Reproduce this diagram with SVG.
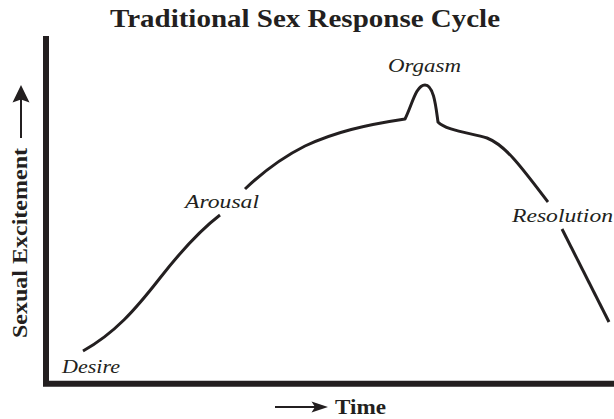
<svg xmlns="http://www.w3.org/2000/svg" width="614" height="419" viewBox="0 0 614 419">
  <style>
    .title { font-family: "Liberation Serif", "Times New Roman", serif; font-weight: bold; font-size: 26px; fill: #231f20; }
    .axis-label { font-family: "Liberation Serif", "Times New Roman", serif; font-weight: bold; font-size: 20px; fill: #231f20; }
    .phase { font-family: "Liberation Serif", "Times New Roman", serif; font-style: italic; font-size: 19px; fill: #231f20; }
    .axis { fill: none; stroke: #231f20; stroke-width: 6; stroke-linejoin: miter; }
    .curve { fill: none; stroke: #231f20; stroke-width: 3; stroke-linecap: butt; stroke-linejoin: round; }
    .shaft { fill: none; stroke: #231f20; stroke-width: 2; }
    .head { fill: #231f20; }
  </style>
  <rect width="614" height="419" fill="#ffffff"/>

  <text class="title" x="305" y="27" text-anchor="middle" textLength="390" lengthAdjust="spacingAndGlyphs">Traditional Sex Response Cycle</text>

  <!-- axes -->
  <g id="axes">
    <path class="axis" d="M46,36 V383.7 H614"/>
  </g>

  <!-- y-axis label with arrow -->
  <g id="y-label">
    <line class="shaft" x1="21" y1="138" x2="21" y2="99"/>
    <polygon class="head" points="21,85 29.5,102.5 21,99.5 12.5,102.5"/>
    <text class="axis-label" transform="translate(27,243) rotate(-90)" text-anchor="middle" textLength="190" lengthAdjust="spacingAndGlyphs">Sexual Excitement</text>
  </g>

  <!-- x-axis label with arrow -->
  <g id="x-label">
    <line class="shaft" x1="275" y1="407" x2="316" y2="407"/>
    <polygon class="head" points="328,407 311.5,401.5 315,407 311.5,412.5"/>
    <text class="axis-label" x="335" y="414" textLength="51" lengthAdjust="spacingAndGlyphs">Time</text>
  </g>

  <!-- response curve, broken where the phase labels sit -->
  <g id="connectors">
    <path class="curve" d="M83,351 C115,333 135,310 160,278 C185,246 203,228 220,215"/>
    <path class="curve" d="M245,189 C265,170 285,156 305,146 C335,132 365,125 405,119 C412,105 416,85 425,85 C434,85 436,108 438,122 C445,130 470,133 487,138 C505,145 520,165 548,202"/>
    <path class="curve" d="M562,229 L609,322"/>
  </g>

  <g id="desire"><text class="phase" x="62" y="373" textLength="58" lengthAdjust="spacingAndGlyphs">Desire</text></g>
  <g id="arousal"><text class="phase" x="185" y="208" textLength="74" lengthAdjust="spacingAndGlyphs">Arousal</text></g>
  <g id="orgasm"><text class="phase" x="388" y="72" textLength="73" lengthAdjust="spacingAndGlyphs">Orgasm</text></g>
  <g id="resolution"><text class="phase" x="512" y="222" textLength="101" lengthAdjust="spacingAndGlyphs">Resolution</text></g>
</svg>
